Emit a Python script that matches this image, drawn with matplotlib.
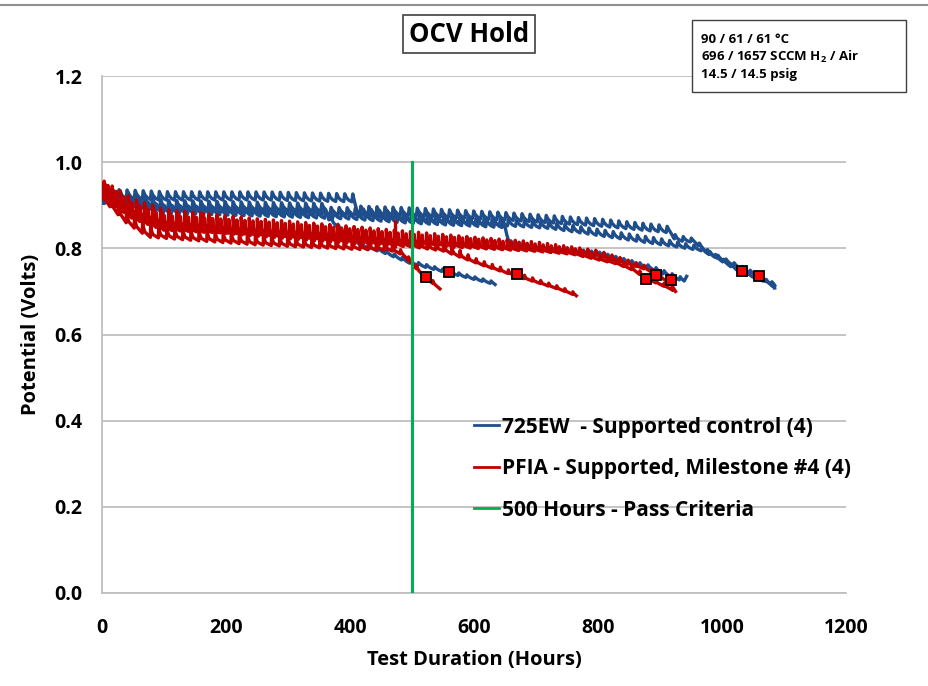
import numpy as np
import matplotlib.pyplot as plt
from matplotlib.patches import Rectangle

plt.rcParams['font.family'] = ['Open Sans', 'DejaVu Sans']
plt.rcParams['font.weight'] = 'bold'
plt.rcParams['mathtext.fontset'] = 'custom'
plt.rcParams['mathtext.bf'] = 'Open Sans:bold'

# lower edge of each sawtooth trace (hours, volts)
b1_h = [0, 100, 270, 405, 412, 500, 650, 800, 916, 925, 955, 976, 1032, 1085]
b1_v = [0.918, 0.912, 0.912, 0.908, 0.880, 0.876, 0.866, 0.852, 0.836, 0.818, 0.814, 0.79, 0.742, 0.714]
b2_h = [0, 100, 400, 500, 723, 884, 965, 980, 1060, 1085]
b2_v = [0.905, 0.885, 0.878, 0.866, 0.846, 0.812, 0.795, 0.785, 0.733, 0.708]
b3_h = [0, 100, 400, 500, 650, 656, 700, 800, 884, 940, 943]
b3_v = [0.91, 0.882, 0.868, 0.858, 0.848, 0.808, 0.798, 0.783, 0.752, 0.722, 0.735]
b4_h = [0, 100, 362, 366, 390, 420, 450, 497, 560, 634]
b4_v = [0.922, 0.892, 0.886, 0.866, 0.836, 0.803, 0.792, 0.765, 0.742, 0.716]

r1_h = [0, 40, 75, 150, 250, 400, 465, 485, 502, 521, 545]
r1_v = [0.915, 0.858, 0.826, 0.818, 0.808, 0.798, 0.795, 0.785, 0.760, 0.732, 0.706]
r2_h = [0, 40, 100, 250, 400, 500, 550, 590, 615, 669, 739, 765]
r2_v = [0.918, 0.876, 0.848, 0.828, 0.812, 0.803, 0.794, 0.773, 0.760, 0.735, 0.704, 0.690]
r3_h = [0, 50, 100, 250, 400, 500, 600, 700, 760, 830, 857, 878, 921]
r3_v = [0.92, 0.868, 0.842, 0.832, 0.818, 0.808, 0.800, 0.793, 0.786, 0.764, 0.749, 0.729, 0.703]
r4_h = [0, 50, 100, 250, 400, 500, 600, 700, 800, 880, 895, 921, 925]
r4_v = [0.925, 0.882, 0.858, 0.838, 0.824, 0.814, 0.804, 0.798, 0.783, 0.750, 0.737, 0.714, 0.700]

# height of the recovery teeth along each trace (hours, volts)
b1_ah = [0, 900, 960, 1085]
b1_a = [0.020, 0.016, 0.008, 0.006]
b2_ah = [0, 900, 980, 1085]
b2_a = [0.018, 0.014, 0.008, 0.006]
b3_ah = [0, 650, 660, 943]
b3_a = [0.018, 0.016, 0.010, 0.008]
b4_ah = [0, 360, 380, 634]
b4_a = [0.020, 0.018, 0.008, 0.006]
r1_ah = [0, 300, 465, 480, 545]
r1_a = [0.036, 0.030, 0.025, 0.010, 0.006]
r2_ah = [0, 300, 550, 600, 765]
r2_a = [0.036, 0.030, 0.022, 0.010, 0.006]
r3_ah = [0, 300, 600, 800, 921]
r3_a = [0.036, 0.030, 0.022, 0.012, 0.006]
r4_ah = [0, 300, 600, 800, 925]
r4_a = [0.034, 0.030, 0.022, 0.012, 0.006]

cycle_h = 13.0
phase_h = [0.0, 4.0, 8.0, 2.0, 0.0, 5.0, 9.0, 3.0]

# isolated tall spikes (hours, low, high)
spike_h = [163, 473]
spike_lo = [0.835, 0.800]
spike_hi = [0.884, 0.866]

# end-of-test markers
mark_h = [522, 560, 669, 877, 893, 918, 1032, 1060]
mark_v = [0.733, 0.745, 0.740, 0.728, 0.738, 0.727, 0.747, 0.736]

blue = '#1F4E8C'
red = '#C00000'
green = '#00B050'

# tooth shape: (hours after recovery, fraction of tooth height)
blue_tooth = [(0, 0), (1.5, 1.0), (4, 0.55), (8, 0.2)]
red_tooth = [(0, 0), (0.5, 1.0), (1.5, 0.5), (4, 0.2)]


def trace(hrs, volts, ah, a, phase, tooth):
    ts = [hrs[0]]
    vs = [volts[0]]
    t = hrs[0] + phase
    while t < hrs[-1]:
        for dt, f in tooth:
            tt = t + dt
            if tt >= hrs[-1]:
                break
            ts.append(tt)
            vs.append(np.interp(tt, hrs, volts) + f * np.interp(tt, ah, a))
        t += cycle_h
    ts.append(hrs[-1])
    vs.append(volts[-1])
    return ts, vs


fig = plt.figure(figsize=(9.29, 6.86), dpi=100)
ax = fig.add_axes([102 / 929, 1 - 593 / 686, 744 / 929, 517 / 686])

curves = [(b1_h, b1_v, b1_ah, b1_a, blue), (b2_h, b2_v, b2_ah, b2_a, blue),
          (b3_h, b3_v, b3_ah, b3_a, blue), (b4_h, b4_v, b4_ah, b4_a, blue),
          (r1_h, r1_v, r1_ah, r1_a, red), (r2_h, r2_v, r2_ah, r2_a, red),
          (r3_h, r3_v, r3_ah, r3_a, red), (r4_h, r4_v, r4_ah, r4_a, red)]
for i, (h, v, ah, a, c) in enumerate(curves):
    tooth = blue_tooth if c == blue else red_tooth
    ts, vs = trace(h, v, ah, a, phase_h[i], tooth)
    ax.plot(ts, vs, color=c, lw=2.4, solid_joinstyle='round', zorder=3)

ax.vlines(spike_h, spike_lo, spike_hi, color=red, lw=2.4, zorder=3)
ax.plot(mark_h, mark_v, 's', ms=7, mfc='#FF0000', mec='black', mew=1.3, zorder=5)
ax.plot([500, 500], [0, 1.0], color=green, lw=2.2, zorder=4)

ax.plot([], [], color=blue, lw=2.0, label='725EW  - Supported control (4)')
ax.plot([], [], color=red, lw=2.0, label='PFIA - Supported, Milestone #4 (4)')
ax.plot([], [], color=green, lw=2.0, label='500 Hours - Pass Criteria')

ax.set_xlim(0, 1200)
ax.set_ylim(0, 1.2)
ax.set_xticks(range(0, 1201, 200))
ax.set_yticks(np.arange(0, 1.21, 0.2))
ax.set_yticklabels([f'{v:.1f}' for v in np.arange(0, 1.21, 0.2)])
ax.tick_params(labelsize=14, length=0)
ax.tick_params(axis='x', pad=18)
ax.tick_params(axis='y', pad=14)
ax.grid(axis='y', color='#BFBFBF', lw=1.3)
ax.set_axisbelow(True)
for s in ['top', 'right']:
    ax.spines[s].set_visible(False)
for s in ['left', 'bottom']:
    ax.spines[s].set_color('#BFBFBF')
    ax.spines[s].set_linewidth(1.3)

ax.set_xlabel('Test Duration (Hours)', fontsize=14.5, fontweight='bold', labelpad=9)
ax.set_ylabel('Potential (Volts)', fontsize=14.5, fontweight='bold', labelpad=10)

leg = ax.legend(loc='upper left', bbox_to_anchor=(455 / 929, 1 - 398 / 686),
                bbox_transform=fig.transFigure, frameon=False, fontsize=15,
                handlelength=1.2, handletextpad=0.15, labelspacing=0.98)

fig.text(469 / 929, 1 - 34 / 686, 'OCV Hold', ha='center', va='center',
         fontsize=18.5, fontweight='bold',
         bbox=dict(boxstyle='square,pad=0.22', fc='white', ec='#404040', lw=1.2))

fig.add_artist(Rectangle((692 / 929, 1 - 92 / 686), 214 / 929, 72 / 686,
                         transform=fig.transFigure, fc='white', ec='#404040', lw=1.0))
fig.text(701 / 929, 1 - 57 / 686,
         '90 / 61 / 61 °C\n696 / 1657 SCCM H$_\\mathbf{2}$ / Air\n14.5 / 14.5 psig',
         ha='left', va='center', fontsize=9.5, fontweight='bold', linespacing=1.3)

fig.add_artist(plt.Line2D([0, 1], [1 - 4.5 / 686, 1 - 4.5 / 686], color='#909090', lw=1.5))

fig.savefig('out.png', dpi=100)
